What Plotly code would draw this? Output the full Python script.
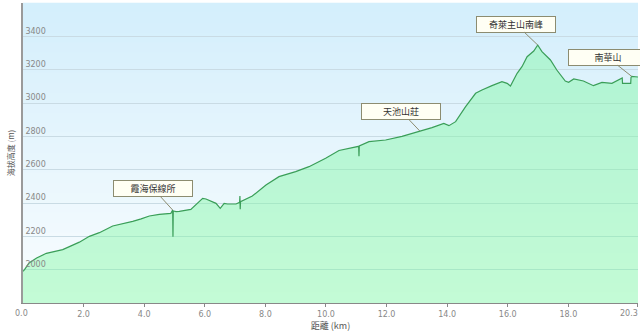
import numpy as np
import plotly.graph_objects as go

# ---- data (distance in km, elevation in m) ----
dist_km = [0.0, 0.05, 0.2, 0.45, 0.77, 1.05, 1.31, 1.55, 1.86, 2.19, 2.52, 2.96, 3.3, 3.62, 3.9,
           4.17, 4.5, 4.88, 4.94, 4.95, 4.96, 5.05, 5.16, 5.54, 5.75, 5.93, 6.04, 6.37, 6.51, 6.64,
           6.75, 7.03, 7.15, 7.16, 7.17, 7.18, 7.57, 8.02, 8.45, 9.0, 9.44, 9.99, 10.43, 10.87,
           11.08, 11.09, 11.1, 11.42, 11.97, 12.51, 13.07, 13.5, 13.89, 14.06, 14.28, 14.61, 14.94,
           15.15, 15.48, 15.81, 15.98, 16.09, 16.31, 16.47, 16.64, 16.86, 16.99, 17.13, 17.41,
           17.62, 17.9, 18.01, 18.18, 18.5, 18.83, 19.11, 19.44, 19.72, 19.78, 19.79, 20.06,
           20.07, 20.09, 20.3]
elev_m = [1990, 2000, 2040, 2070, 2098, 2110, 2120, 2140, 2165, 2200, 2222, 2262, 2275, 2290, 2305,
          2322, 2332, 2338, 2358, 2198, 2352, 2348, 2350, 2362, 2395, 2428, 2424, 2398, 2368, 2398,
          2394, 2394, 2404, 2442, 2362, 2408, 2442, 2508, 2558, 2588, 2618, 2668, 2715, 2734,
          2740, 2680, 2742, 2768, 2778, 2800, 2830, 2852, 2878, 2864, 2888, 2978, 3058,
          3078, 3104, 3128, 3118, 3102, 3178, 3218, 3278, 3312, 3348, 3308, 3258,
          3198, 3132, 3124, 3144, 3132, 3104, 3124, 3118, 3148, 3150, 3118, 3118,
          3154, 3160, 3156]

landmark_names = ["霞海保線所", "天池山莊", "奇萊主山南峰", "南華山"]
landmark_km = [4.94, 13.1, 16.99, 20.09]

x_tickvals = [0.0, 2.0, 4.0, 6.0, 8.0, 10.0, 12.0, 14.0, 16.0, 18.0, 20.3]
x_ticktext = ["0.0", "2.0", "4.0", "6.0", "8.0", "10.0", "12.0", "14.0", "16.0", "18.0", "20.3"]
y_tickvals = [2000, 2200, 2400, 2600, 2800, 3000, 3200, 3400]

fig = go.Figure()
fig.add_trace(go.Scatter(
    x=dist_km, y=elev_m, mode="lines",
    line=dict(color="#3a9e58", width=1.2),
    fill="tozeroy", fillcolor="rgba(125,248,162,0.44)",
    hoverinfo="x+y", showlegend=False,
))

# background gradient bands
top = np.array([212, 239, 252])
bot = np.array([250, 253, 255])
n = 30
shapes = []
for i in range(n):
    t = i / (n - 1)
    c = top * (1 - t) + bot * t
    shapes.append(dict(type="rect", xref="paper", yref="paper",
                       x0=0, x1=1, y0=1 - (i + 1) / n, y1=1 - i / n + 0.001,
                       fillcolor="rgb(%d,%d,%d)" % tuple(c.astype(int)),
                       line=dict(width=0), layer="below"))

annotations = []
offsets = [(-20, -22), (-19, -20), (-22, -21), (-24, -19)]
for name, km, (ax, ay) in zip(landmark_names, landmark_km, offsets):
    y = float(np.interp(km, dist_km, elev_m))
    annotations.append(dict(
        x=km, y=y, xref="x", yref="y", text=name, showarrow=True,
        ax=ax, ay=ay, arrowhead=0, arrowwidth=1, arrowcolor="#8c8c70",
        bgcolor="#fffff4", bordercolor="#8c8c70", borderwidth=1, borderpad=2,
        width=74, height=11,
        font=dict(family="Noto Sans CJK TC", size=9, color="#333333"),
    ))

# edge tick labels (first and last) placed as annotations so they stay visible
tick_font = dict(family="DejaVu Sans", size=8, color="#888888")
shown_text = list(x_ticktext)
for idx, anchor, shift in [(0, "center", -2), (len(x_tickvals) - 1, "right", 2)]:
    annotations.append(dict(
        x=x_tickvals[idx], y=0, xref="x", yref="paper", text=x_ticktext[idx],
        showarrow=False, xanchor=anchor, yanchor="top", xshift=shift, yshift=-4,
        font=tick_font,
    ))
    shown_text[idx] = ""

fig.update_layout(
    width=640, height=333,
    margin=dict(l=23, r=2, t=3, b=30),
    paper_bgcolor="white", plot_bgcolor="rgba(0,0,0,0)",
    shapes=shapes, annotations=annotations,
    font=dict(family="DejaVu Sans", size=9, color="#777777"),
    xaxis=dict(
        range=[-0.0005, 20.3005], tickvals=x_tickvals, ticktext=shown_text,
        showgrid=False, zeroline=False,
        showline=True, linecolor="#888888", linewidth=1,
        ticks="outside", ticklen=3, tickcolor="#888888",
        tickfont=tick_font,
        title=dict(text="距離 (km)", standoff=5,
                   font=dict(family="Noto Sans CJK TC", size=9, color="#555555")),
        automargin=False,
    ),
    yaxis=dict(
        range=[1800, 3600], tickvals=y_tickvals,
        showgrid=True, gridcolor="#c9dbe4", gridwidth=1, zeroline=False,
        showline=True, linecolor="#9a9a9a", linewidth=2,
        ticks="", ticklabelposition="inside top",
        tickfont=tick_font,
        title=dict(text="海拔高度 (m)", standoff=10,
                   font=dict(family="Noto Sans CJK TC", size=8, color="#555555")),
        automargin=False,
    ),
)

fig.write_html("out.html")
